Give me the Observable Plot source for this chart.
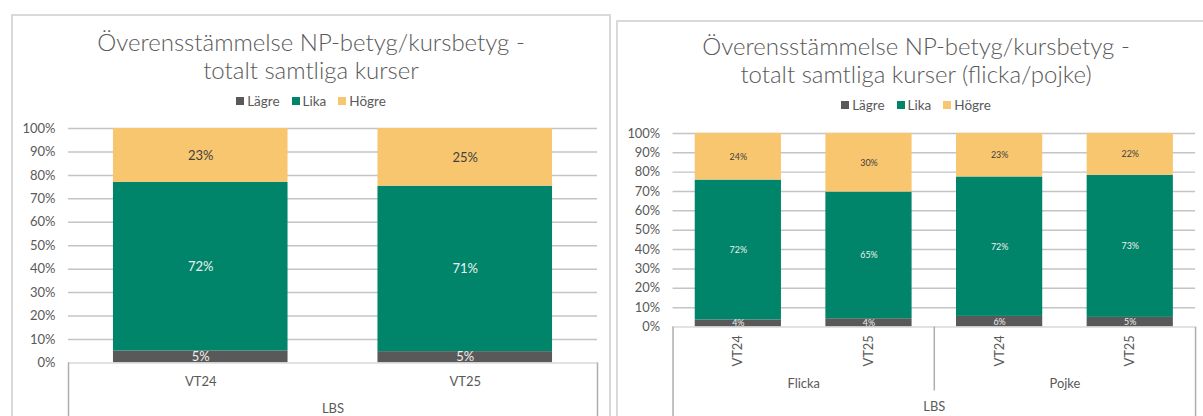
<!DOCTYPE html>
<html><head><meta charset="utf-8">
<script src="https://cdn.jsdelivr.net/npm/d3@7"></script>
<script src="https://cdn.jsdelivr.net/npm/@observablehq/plot@0.6"></script>
<style>
html,body{margin:0;padding:0;background:#fff;overflow:hidden;}
body{width:1203px;height:416px;position:relative;font-family:Lato,sans-serif;color:#595959;}
.frame{position:absolute;border:2px solid #D9D9D9;box-sizing:border-box;}
.title{position:absolute;text-align:center;font-size:24px;line-height:28px;white-space:nowrap;font-weight:300;}
.legend{position:absolute;display:flex;justify-content:center;align-items:center;font-size:13.5px;height:14px;gap:12px;}
.legend span.item{display:flex;align-items:center;}
.sw{display:inline-block;width:8px;height:8px;margin-right:3px;}
.chart{position:absolute;}
</style></head><body>
<div class="frame" style="left:11px;top:14px;width:600px;height:420px"></div>
<div class="frame" style="left:616px;top:20px;width:602px;height:420px"></div>
<div class="title" id="t1" style="left:11px;top:28px;width:600px"></div>
<div class="title" id="t2" style="left:616px;top:32px;width:600px"></div>
<div class="legend" id="l1" style="left:11px;top:94px;width:600px"></div>
<div class="legend" id="l2" style="left:616px;top:98px;width:600px"></div>
<div class="chart" id="c1" style="left:12px;top:118px"></div>
<div class="chart" id="c2" style="left:618px;top:120px"></div>
<script>
// ---- data ----
const seriesNames = ["Lägre", "Lika", "Högre"];
const seriesColors = ["#595959", "#00856A", "#F8C66F"];
const labelColors = ["#F0F0F0", "#F0F0F0", "#404040"];
const yTicks = [0, 10, 20, 30, 40, 50, 60, 70, 80, 90, 100];

const title1 = ["Överensstämmelse NP-betyg/kursbetyg -", "totalt samtliga kurser"];
const leftCategories = ["VT24", "VT25"];
const leftLagre = [5.1, 4.8];
const leftLika = [71.9, 70.6];
const leftHogre = [23.0, 24.6];
const leftGroupLabel = "LBS";

const title2 = ["Överensstämmelse NP-betyg/kursbetyg -", "totalt samtliga kurser (flicka/pojke)"];
const rightCategories = ["VT24", "VT25", "VT24", "VT25"];
const rightGroups = ["Flicka", "Flicka", "Pojke", "Pojke"];
const rightLagre = [3.7, 4.3, 5.5, 5.0];
const rightLika = [72.2, 65.4, 72.0, 73.4];
const rightHogre = [24.1, 30.3, 22.5, 21.6];
const rightGroupLabel = "LBS";

// ---- header helpers ----
function header(tid, lid, lines) {
  document.getElementById(tid).innerHTML = lines.map(l => `<div>${l}</div>`).join("");
  document.getElementById(lid).innerHTML = seriesNames.map((s, i) =>
    `<span class="item"><span class="sw" style="background:${seriesColors[i]}"></span>${s}</span>`).join("");
}
header("t1", "l1", title1);
header("t2", "l2", title2);

function buildRows(cats, series) {
  const rows = [];
  cats.forEach((c, i) => {
    let acc = 0;
    series.forEach((vals, s) => {
      const v = vals[i];
      rows.push({i, cat: c, series: seriesNames[s], s, v, y1: acc, y2: acc + v});
      acc += v;
    });
  });
  return rows;
}

function chart(opts) {
  const {cats, groups, series, yMin, width, height, marginLeft, marginRight, marginTop,
         labelSize, catY, rotate, groupY, sepMidY, topLabel, topY} = opts;
  const n = cats.length;
  const rows = buildRows(cats, series);
  const half = 0.33;
  const marks = [];
  // gridlines
  marks.push(Plot.ruleY(yTicks.filter(t => t > 0), {stroke: "#C4C4C4", strokeWidth: 1.5}));
  // bars
  seriesNames.forEach((name, s) => {
    marks.push(Plot.rect(rows.filter(d => d.s === s), {
      x1: d => d.i - half, x2: d => d.i + half, y1: "y1", y2: "y2",
      fill: seriesColors[s]
    }));
  });
  // baseline
  marks.push(Plot.ruleY([0], {stroke: "#D9D9D9", strokeWidth: 1.5}));
  // bar labels
  seriesNames.forEach((name, s) => {
    marks.push(Plot.text(rows.filter(d => d.s === s), {
      x: "i", y: d => (d.y1 + d.y2) / 2, text: d => Math.round(d.v) + "%",
      fill: labelColors[s], fontSize: labelSize
    }));
  });
  // separators
  const seps = [{x: -0.5, y1: yMin}, {x: n - 0.5, y1: yMin}];
  if (groups) {
    for (let i = 1; i < n; i++) if (groups[i] !== groups[i - 1]) seps.push({x: i - 0.5, y1: sepMidY});
  }
  marks.push(Plot.ruleX(seps, {x: "x", y1: "y1", y2: 0, stroke: "#ADADAD", strokeWidth: 1.5}));
  // category labels
  marks.push(Plot.text(cats.map((c, i) => ({c, i})), {
    x: "i", y: catY, text: "c", rotate: rotate, fontSize: 13, fill: "#595959"
  }));
  // group labels
  if (groups) {
    const uniq = [...new Set(groups)];
    const gl = uniq.map(g => {
      const idx = groups.map((v, i) => v === g ? i : null).filter(v => v !== null);
      return {g, x: d3.mean(idx)};
    });
    marks.push(Plot.text(gl, {x: "x", y: groupY, text: "g", fontSize: 13, fill: "#595959"}));
  }
  marks.push(Plot.text([topLabel], {x: (n - 1) / 2, y: topY, text: d => d, fontSize: 13, fill: "#595959"}));
  // y axis
  marks.push(Plot.axisY(yTicks, {tickSize: 0, tickPadding: 13, tickFormat: d => d + "%", fontSize: 13, fill: "#595959"}));

  return Plot.plot({
    width, height, marginLeft, marginRight, marginTop, marginBottom: 0,
    x: {type: "linear", domain: [-0.5, n - 0.5], axis: null},
    y: {type: "linear", domain: [yMin, 100], axis: null},
    style: {fontFamily: "Lato, sans-serif", color: "#595959", background: "transparent", overflow: "visible"},
    marks
  });
}

document.getElementById("c1").append(chart({
  cats: leftCategories, groups: null, series: [leftLagre, leftLika, leftHogre],
  yMin: -25, width: 590, height: 303, marginLeft: 56, marginRight: 5, marginTop: 10,
  labelSize: 13, catY: -8, rotate: 0, groupY: null, sepMidY: null,
  topLabel: leftGroupLabel, topY: -19.6
}));

document.getElementById("c2").append(chart({
  cats: rightCategories, groups: rightGroups, series: [rightLagre, rightLika, rightHogre],
  yMin: -50, width: 590, height: 306, marginLeft: 55, marginRight: 8, marginTop: 13,
  labelSize: 9, catY: -12.3, rotate: -90, groupY: -29.2, sepMidY: -33,
  topLabel: rightGroupLabel, topY: -41
}));
</script>
</body></html>
